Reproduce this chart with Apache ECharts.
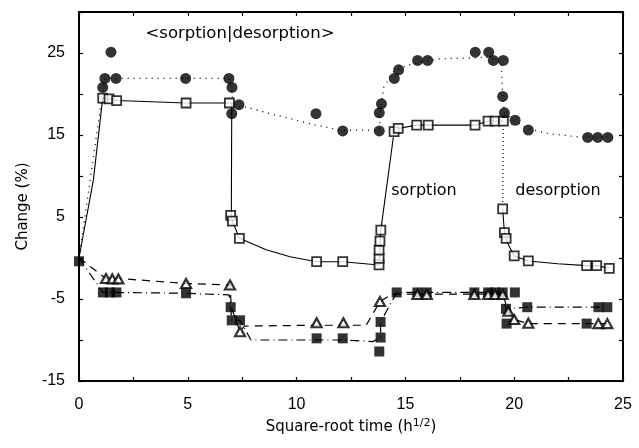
<!DOCTYPE html>
<html><head><meta charset="utf-8">
<script src="https://cdn.jsdelivr.net/npm/echarts@6/dist/echarts.min.js"></script>
<style>html,body{margin:0;padding:0;background:#fff}#c{width:639px;height:448px}</style>
</head><body><div id="c"></div>
<script>
// ---- measured points (filled circles) ----
const circT = [1.09,1.19,1.47,1.70,4.90,6.89,7.03,7.02,7.35,10.89,12.12,13.80,13.80,13.90,14.49,14.69,15.56,16.02,18.21,18.83,19.04,19.50,19.47,19.55,20.04,20.65,23.38,23.84,24.30];
const circV = [20.8,21.9,25.1,21.9,21.9,21.9,20.8,17.6,18.7,17.6,15.5,15.5,17.7,18.8,21.9,22.95,24.1,24.1,25.1,25.1,24.1,24.1,19.7,17.7,16.8,15.6,14.7,14.7,14.7];
// open squares
const osqT = [1.09,1.38,1.73,4.92,6.91,6.97,7.05,7.37,10.92,12.12,13.79,13.79,13.79,13.83,13.87,14.48,14.67,15.52,16.05,18.20,18.80,19.12,19.50,19.47,19.55,19.63,20.00,20.65,23.33,23.79,24.37];
const osqV = [19.5,19.4,19.2,18.9,18.9,5.2,4.5,2.4,-0.45,-0.45,-0.85,-0.05,0.97,2.07,3.4,15.4,15.8,16.2,16.2,16.2,16.7,16.7,16.7,6.0,3.1,2.4,0.25,-0.36,-0.93,-0.93,-1.26];
// open triangles
const triT = [1.24,1.53,1.81,4.92,6.94,7.40,10.92,12.15,13.83,15.55,15.98,18.17,18.80,19.12,19.47,19.73,20.00,20.65,23.87,24.28];
const triV = [-2.5,-2.55,-2.55,-3.1,-3.3,-9.0,-7.9,-7.9,-5.3,-4.45,-4.45,-4.45,-4.45,-4.45,-4.45,-6.5,-7.5,-7.95,-8.0,-8.0];
// filled squares
const fsqT = [0,1.10,1.42,1.72,4.92,6.97,7.02,7.40,10.92,12.12,13.86,13.86,13.80,14.60,15.55,15.98,18.17,18.80,19.12,19.47,20.03,19.62,19.65,20.60,23.33,23.87,24.28];
const fsqV = [-0.4,-4.2,-4.2,-4.2,-4.3,-6.0,-7.6,-7.6,-9.8,-9.8,-7.8,-9.7,-11.4,-4.2,-4.2,-4.2,-4.2,-4.2,-4.2,-4.2,-4.2,-6.2,-8.0,-6.0,-8.0,-6.0,-6.0];

// ---- drawn curves ----
const circLineT = [0,1.05,1.20,1.70,4.90,6.90,7.00,7.10,7.50,9.10,10.90,12.00,13.80,13.85,14.00,14.45,15.05,16.60,18.10,18.70,19.40,19.47,19.55,19.90,20.60,21.50,23.00,24.55];
const circLineV = [0,19.5,21.9,21.9,21.9,21.9,20.8,18.2,18.5,17.4,16.2,15.6,15.6,17.7,20.8,22.7,23.5,24.3,24.4,24.5,23.9,19.7,17.7,17.0,15.8,15.2,14.75,14.75];
const osqLineAT = [0,0.66,1.09,1.38,1.73,4.92,6.91,7.02,7.00,7.05,7.37,8.60,9.70,10.92,12.12,13.79,13.87,14.48,14.67,15.52,16.05,18.20,18.80,19.50];
const osqLineAV = [0,9.5,19.5,19.4,19.2,18.9,18.9,18.9,5.2,4.5,2.4,1.0,0.15,-0.45,-0.45,-0.85,3.4,15.4,15.8,16.2,16.2,16.2,16.7,16.7];
const osqDropT = [19.50,19.47];
const osqDropV = [16.7,6.0];
const osqLineBT = [19.47,19.55,19.70,20.00,20.65,22.00,23.33,23.79,24.37];
const osqLineBV = [6.0,3.1,1.8,0.25,-0.36,-0.7,-0.93,-0.93,-1.26];
const triLineT = [0,1.24,1.81,4.92,6.94,7.00,7.40,7.60,10.92,12.15,13.20,13.83,14.40,19.47,19.73,20.00,20.65,24.28];
const triLineV = [0,-2.5,-2.5,-3.1,-3.3,-6.0,-9.0,-8.3,-8.2,-8.2,-8.2,-5.3,-4.4,-4.4,-6.5,-7.5,-8.0,-8.0];
const fsqLineT = [0,1.10,1.72,4.92,6.90,6.97,7.02,7.40,7.90,10.92,12.12,13.50,13.86,13.86,14.60,19.47,19.62,20.60,24.28];
const fsqLineV = [0,-4.2,-4.2,-4.3,-4.5,-6.0,-7.6,-7.6,-10.0,-10.0,-10.0,-10.2,-9.7,-7.8,-4.2,-4.2,-6.2,-6.0,-6.0];

const xMin = 0, xMax = 25, xStep = 2.5;
const yMin = -15, yMax = 30, yStep = 5;

const zip = (a, b) => a.map((v, i) => [v, b[i]]);
const chart = echarts.init(document.getElementById('c'), null, {renderer: 'canvas'});
const ink = '#000';
const tickFont = {color: ink, fontSize: 16, fontFamily: 'Liberation Sans'};

function lineSeries(t, v, type, w) {
  return {type: 'line', data: zip(t, v), showSymbol: false, symbol: 'none', silent: true,
    lineStyle: {color: ink, width: w || 1, type: type}, z: 1, animation: false};
}
const frameLine = {show: true, onZero: false, lineStyle: {color: ink, width: 2}};
const frameTick = {show: true, inside: true, length: 4, lineStyle: {color: ink, width: 1.2}};

const option = {
  backgroundColor: '#fff',
  animation: false,
  grid: {left: 79, right: 16, top: 12, bottom: 67, containLabel: false},
  xAxis: [{
    type: 'value', min: xMin, max: xMax, interval: xStep,
    axisLine: frameLine, axisTick: frameTick,
    axisLabel: Object.assign({margin: 16, formatter: v => (v % 5 === 0 ? String(v) : '')}, tickFont),
    splitLine: {show: false},
    name: 'Square-root time (h{s|1/2})',
    nameLocation: 'middle', nameGap: 44,
    nameTextStyle: {color: ink, fontSize: 15, fontFamily: 'DejaVu Sans', verticalAlign: 'bottom',
      rich: {s: {fontSize: 11, fontFamily: 'DejaVu Sans', color: ink, padding: [0, 0, 8, 0], verticalAlign: 'bottom'}}}
  }, {
    type: 'value', min: xMin, max: xMax, interval: xStep, position: 'top',
    axisLine: frameLine, axisTick: frameTick,
    axisLabel: {show: false}, splitLine: {show: false}
  }],
  yAxis: [{
    type: 'value', min: yMin, max: yMax, interval: yStep,
    axisLine: frameLine, axisTick: frameTick,
    axisLabel: Object.assign({margin: 14, formatter: v => ((v - yMin) % 10 === 0 && v < yMax ? String(v) : '')}, tickFont),
    splitLine: {show: false},
    name: 'Change (%)', nameLocation: 'middle', nameGap: 46,
    nameTextStyle: {color: ink, fontSize: 15, fontFamily: 'DejaVu Sans', padding: [0, 20, 0, 0]}
  }, {
    type: 'value', min: yMin, max: yMax, interval: yStep, position: 'right',
    axisLine: frameLine, axisTick: frameTick,
    axisLabel: {show: false}, splitLine: {show: false}
  }],
  graphic: [
    {type: 'text', x: 240, y: 34, style: {text: '<sorption|desorption>', fill: ink, font: '16.5px "DejaVu Sans"', textAlign: 'center', textVerticalAlign: 'middle'}},
    {type: 'text', x: 424, y: 191, style: {text: 'sorption', fill: ink, font: '16px "DejaVu Sans"', textAlign: 'center', textVerticalAlign: 'middle'}},
    {type: 'text', x: 558, y: 191, style: {text: 'desorption', fill: ink, font: '16px "DejaVu Sans"', textAlign: 'center', textVerticalAlign: 'middle'}}
  ],
  series: [
    lineSeries(circLineT, circLineV, [1, 5], 1.3),
    lineSeries(osqLineAT, osqLineAV, 'solid', 1.1),
    lineSeries(osqDropT, osqDropV, [1, 3], 1.2),
    lineSeries(osqLineBT, osqLineBV, 'solid', 1.1),
    lineSeries(triLineT, triLineV, [8, 6], 1.2),
    lineSeries(fsqLineT, fsqLineV, [9, 4, 1, 4], 1.2),
    {type: 'scatter', data: zip(fsqT, fsqV), symbol: 'rect', symbolSize: 10, clip: false, z: 3,
      itemStyle: {color: ink, borderWidth: 0}},
    {type: 'scatter', data: zip(triT, triV), symbol: 'triangle', symbolSize: [10, 9], clip: false, z: 4,
      itemStyle: {color: '#fff', borderColor: ink, borderWidth: 2.2}},
    {type: 'scatter', data: zip(osqT, osqV), symbol: 'rect', symbolSize: 9, clip: false, z: 5,
      itemStyle: {color: '#fff', borderColor: ink, borderWidth: 1.8}},
    {type: 'scatter', data: zip(circT, circV), symbol: 'circle', symbolSize: 11, clip: false, z: 6,
      itemStyle: {color: ink, borderWidth: 0}}
  ]
};
chart.setOption(option);
</script></body></html>
